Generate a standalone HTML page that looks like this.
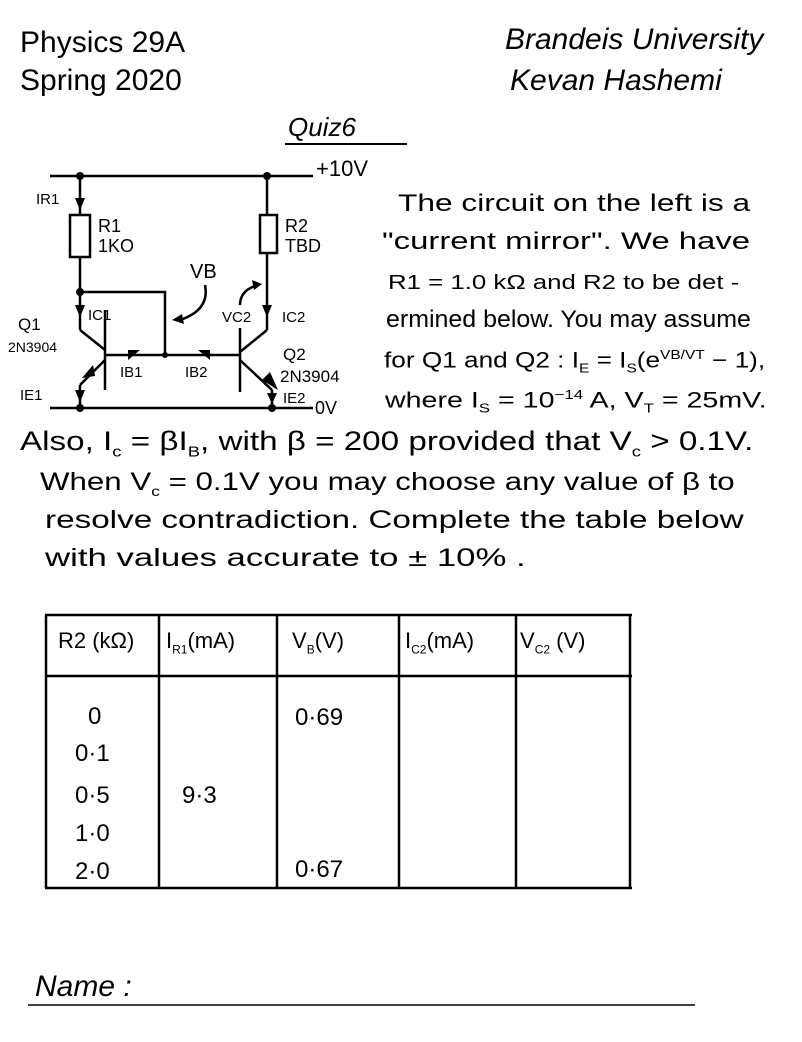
<!DOCTYPE html>
<html><head><meta charset="utf-8"><style>
html,body{margin:0;padding:0;background:#fff}
body{width:802px;height:1042px;position:relative;overflow:hidden;font-family:"Liberation Sans",sans-serif;color:#000}
.t{position:absolute;white-space:nowrap;line-height:1;transform-origin:0 0}
</style></head><body>
<div class="t" style="left:20px;top:28px;font-size:30px">Physics 29A</div>
<div class="t" style="left:20px;top:66px;font-size:30px">Spring 2020</div>
<div class="t" style="left:505px;top:25px;font-size:30px;font-style:italic">Brandeis University</div>
<div class="t" style="left:510px;top:66px;font-size:30px;font-style:italic">Kevan Hashemi</div>
<div class="t" style="left:288px;top:114px;font-size:26px;font-style:italic">Quiz6</div>
<div style="position:absolute;left:285px;top:143px;width:122px;border-top:2px solid #000"></div>

<svg style="position:absolute;left:0;top:0" width="802" height="1042">
<g stroke="#000" stroke-width="2.5" fill="none">
<line x1="50" y1="176" x2="313" y2="176"/>
<line x1="50" y1="408" x2="313" y2="408"/>
<line x1="80" y1="176" x2="80" y2="215"/>
<rect x="70" y="215" width="20" height="42"/>
<line x1="80" y1="257" x2="80" y2="330"/>
<polyline points="80,292 165,292 165,355"/>
<line x1="80" y1="330" x2="105" y2="350"/>
<line x1="105" y1="310" x2="105" y2="390"/>
<line x1="105" y1="355" x2="240" y2="355"/>
<line x1="105" y1="360" x2="80" y2="385"/>
<line x1="80" y1="385" x2="80" y2="408"/>
<line x1="267" y1="176" x2="267" y2="215"/>
<rect x="260" y="215" width="17" height="38"/>
<line x1="267" y1="253" x2="267" y2="330"/>
<line x1="267" y1="330" x2="240" y2="352"/>
<line x1="240" y1="328" x2="240" y2="392"/>
<line x1="240" y1="360" x2="272" y2="390"/>
<line x1="272" y1="390" x2="272" y2="408"/>
<path d="M205 285 Q210 310 180 320"/>
<path d="M240 305 Q240 290 258 285"/>
</g>
<g fill="#000">
<circle cx="80" cy="176" r="4"/><circle cx="267" cy="176" r="4"/>
<circle cx="80" cy="408" r="4"/><circle cx="272" cy="408" r="4"/>
<circle cx="80" cy="292" r="4"/><circle cx="165" cy="355" r="3"/>
<polygon points="75,198 85,198 80,210"/><polygon points="75,305 85,305 80,317"/>
<polygon points="262,305 272,305 267,317"/><polygon points="75,390 85,390 80,402"/>
<polygon points="267,393 277,393 272,404"/>
<polygon points="82,378 93,365 95,376"/><polygon points="278,390 262,380 270,372"/>
<polygon points="128,350 140,350 128,360"/>
<polygon points="210,350 198,350 210,360"/>
<polygon points="172,320 182,314 184,324"/><polygon points="262,284 252,280 254,290"/>
</g>
<g font-family="Liberation Sans" font-size="15">
<text x="36" y="204">IR1</text><text x="98" y="232" font-size="18">R1</text><text x="98" y="252" font-size="18">1KO</text>
<text x="285" y="232" font-size="18">R2</text><text x="285" y="252" font-size="18">TBD</text>
<text x="190" y="278" font-size="20">VB</text><text x="222" y="322">VC2</text><text x="282" y="322">IC2</text>
<text x="88" y="320">IC1</text><text x="18" y="330" font-size="17">Q1</text><text x="8" y="352" font-size="14">2N3904</text>
<text x="120" y="377">IB1</text><text x="185" y="377">IB2</text>
<text x="283" y="360" font-size="17">Q2</text><text x="280" y="382" font-size="17">2N3904</text>
<text x="20" y="400">IE1</text><text x="283" y="403">IE2</text><text x="315" y="414" font-size="18">0V</text>
<text x="316" y="176" font-size="22">+10V</text>
</g>
<g stroke="#000" stroke-width="2.5">
<line x1="45" y1="615" x2="632" y2="615"/>
<line x1="45" y1="676" x2="632" y2="676"/>
<line x1="45" y1="888" x2="632" y2="888"/>
<line x1="46" y1="615" x2="46" y2="888"/><line x1="159" y1="615" x2="159" y2="888"/>
<line x1="277" y1="615" x2="277" y2="888"/><line x1="399" y1="615" x2="399" y2="888"/>
<line x1="516" y1="615" x2="516" y2="888"/><line x1="630" y1="615" x2="630" y2="888"/>
<line x1="28" y1="1005" x2="695" y2="1005" stroke-width="1.5"/>
</g>
</svg>

<div class="t" style="left:398px;top:192px;font-size:24px;transform:scaleX(1.32)">The circuit on the left is a</div>
<div class="t" style="left:382px;top:230px;font-size:24px;transform:scaleX(1.37)">"current mirror". We have</div>
<div class="t" style="left:388px;top:273px;font-size:20px;transform:scaleX(1.29)">R1 = 1.0 kΩ and R2 to be det -</div>
<div class="t" style="left:386px;top:308px;font-size:24px;transform:scaleX(1.04)">ermined below. You may assume</div>
<div class="t" style="left:384px;top:348px;font-size:22px;transform:scaleX(1.19)">for Q1 and Q2 : I<sub style="font-size:13px">E</sub> = I<sub style="font-size:13px">S</sub>(e<sup style="font-size:13px">VB/VT</sup> − 1),</div>
<div class="t" style="left:385px;top:388px;font-size:22px;transform:scaleX(1.3)">where I<sub style="font-size:13px">S</sub> = 10<sup style="font-size:13px">−14</sup> A, V<sub style="font-size:13px">T</sub> = 25mV.</div>
<div class="t" style="left:20px;top:428px;font-size:27px;transform:scaleX(1.23)">Also, I<sub style="font-size:15px">c</sub> = βI<sub style="font-size:15px">B</sub>, with β = 200 provided that V<sub style="font-size:15px">c</sub> &gt; 0.1V.</div>
<div class="t" style="left:40px;top:470px;font-size:25px;transform:scaleX(1.25)">When V<sub style="font-size:14px">c</sub> = 0.1V you may choose any value of β to</div>
<div class="t" style="left:45px;top:508px;font-size:25px;transform:scaleX(1.33)">resolve contradiction. Complete the table below</div>
<div class="t" style="left:45px;top:546px;font-size:25px;transform:scaleX(1.39)">with values accurate to ± 10% .</div>

<div class="t" style="left:58px;top:630px;font-size:22px">R2 (kΩ)</div>
<div class="t" style="left:166px;top:630px;font-size:22px">I<sub style="font-size:12px">R1</sub>(mA)</div>
<div class="t" style="left:292px;top:630px;font-size:22px">V<sub style="font-size:12px">B</sub>(V)</div>
<div class="t" style="left:405px;top:630px;font-size:22px">I<sub style="font-size:12px">C2</sub>(mA)</div>
<div class="t" style="left:520px;top:630px;font-size:22px">V<sub style="font-size:12px">C2</sub> (V)</div>
<div class="t" style="left:88px;top:705px;font-size:24px">0</div>
<div class="t" style="left:75px;top:742px;font-size:24px">0·1</div>
<div class="t" style="left:75px;top:784px;font-size:24px">0·5</div>
<div class="t" style="left:75px;top:822px;font-size:24px">1·0</div>
<div class="t" style="left:75px;top:860px;font-size:24px">2·0</div>
<div class="t" style="left:182px;top:784px;font-size:24px">9·3</div>
<div class="t" style="left:295px;top:706px;font-size:24px">0·69</div>
<div class="t" style="left:295px;top:858px;font-size:24px">0·67</div>
<div class="t" style="left:35px;top:972px;font-size:30px;font-style:italic">Name :</div>
</body></html>
